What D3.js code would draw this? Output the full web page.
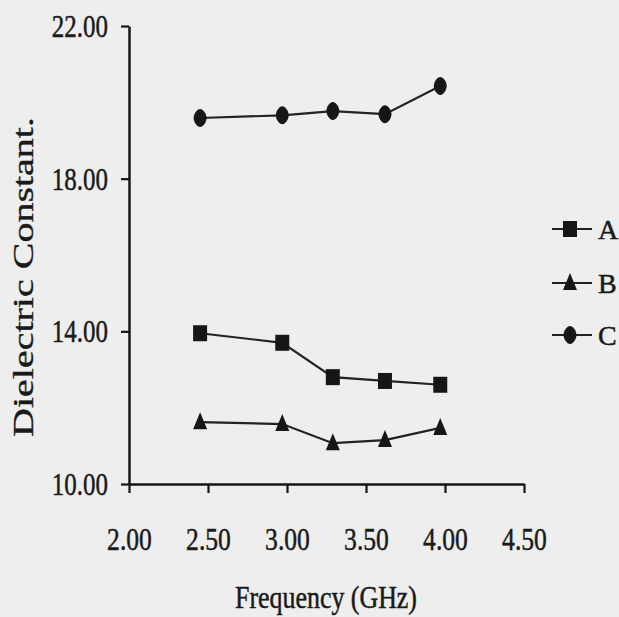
<!DOCTYPE html>
<html>
<head>
<meta charset="utf-8">
<script src="https://cdn.jsdelivr.net/npm/d3@7.9.0/dist/d3.min.js"></script>
<style>
  html, body { margin: 0; padding: 0; background: #eeeeee; }
  svg { display: block; }
  text { font-family: "Liberation Serif", "DejaVu Serif", serif; fill: #1a1a1a; stroke: #1a1a1a; stroke-width: 0.5; }
</style>
</head>
<body>
<svg id="chart" width="619" height="617"></svg>
<script>
// frequencies (GHz) and the three dielectric constant series
const freqs = [2.45, 2.97, 3.29, 3.62, 3.97];
const seriesA = [13.95, 13.70, 12.80, 12.70, 12.60];
const seriesB = [11.62, 11.57, 11.07, 11.15, 11.47];
const seriesC = [19.59, 19.66, 19.77, 19.69, 20.43];
const seriesNames = ['A', 'B', 'C'];
const xTicks = [2.0, 2.5, 3.0, 3.5, 4.0, 4.5];
const yTicks = [10, 14, 18, 22];

const svg = d3.select('#chart');
const ink = '#161616';

let x = d3.scaleLinear().domain([2, 4.5]).range([129, 524]);
let y = d3.scaleLinear().domain([10, 22]).range([484, 26]);

// squeeze glyphs horizontally like the scanned figure
function squeeze(sel, f) {
  sel.each(function () {
    const w = this.getComputedTextLength();
    d3.select(this).attr('textLength', w * f).attr('lengthAdjust', 'spacingAndGlyphs');
  });
}

// tall narrow marker shapes
const tallTriangle = {
  draw(ctx, size) {
    ctx.moveTo(0, -10);
    ctx.lineTo(7, 7);
    ctx.lineTo(-7, 7);
    ctx.closePath();
  }
};
const tallSquare = {
  draw(ctx, size) {
    ctx.rect(-7, -8, 14, 16);
  }
};
const tallDiamond = {
  draw(ctx, size) {
    // rounded diamond, close to an upright ellipse
    const rx = 6.5, ry = 9, k = 0.45;
    ctx.moveTo(0, -ry);
    ctx.bezierCurveTo(rx * k, -ry, rx, -ry * k, rx, 0);
    ctx.bezierCurveTo(rx, ry * k, rx * k, ry, 0, ry);
    ctx.bezierCurveTo(-rx * k, ry, -rx, ry * k, -rx, 0);
    ctx.bezierCurveTo(-rx, -ry * k, -rx * k, -ry, 0, -ry);
    ctx.closePath();
  }
};
const shapes = [tallSquare, tallTriangle, tallDiamond];

// axes
let yAxis = d3.axisLeft(y).tickValues(yTicks).tickSize(8).tickSizeOuter(0)
  .tickPadding(13).tickFormat(d3.format('.2f'));
let xAxis = d3.axisBottom(x).tickValues(xTicks).tickSize(9).tickSizeOuter(0)
  .tickFormat(d3.format('.2f'));

let gy = svg.append('g').attr('transform', `translate(${x(2)},0)`).call(yAxis);
let gx = svg.append('g').attr('transform', `translate(0,${y(10)})`).call(xAxis);

[gx, gy].forEach(g => {
  g.select('.domain').attr('stroke', ink).attr('stroke-width', 2.5);
  g.selectAll('.tick line').attr('stroke', ink).attr('stroke-width', 2.2);
  g.selectAll('.tick text').attr('font-size', 32).attr('fill', ink)
    .attr('font-family', '"Liberation Serif", serif');
});
gy.selectAll('.tick text').attr('dy', '0.33em');
gx.selectAll('.tick text').attr('y', 66).attr('dy', 0);
squeeze(gy.selectAll('.tick text'), 0.78);
squeeze(gx.selectAll('.tick text'), 0.8);

// lines + markers
const allSeries = [seriesA, seriesB, seriesC];
let line = d3.line().x(d => x(d[0])).y(d => y(d[1]));

allSeries.forEach((vals, i) => {
  const pts = freqs.map((f, j) => [f, vals[j]]);
  svg.append('path')
    .attr('d', line(pts))
    .attr('fill', 'none')
    .attr('stroke', '#222')
    .attr('stroke-width', 2.2);
  svg.append('g').selectAll('path')
    .data(pts)
    .join('path')
    .attr('d', d3.symbol(shapes[i]))
    .attr('transform', d => `translate(${x(d[0])},${y(d[1])})`)
    .attr('fill', ink);
});

// legend
const legendY = [229, 283, 335];
seriesNames.forEach((name, i) => {
  const g = svg.append('g').attr('transform', `translate(570,${legendY[i]})`);
  g.append('line').attr('x1', -18).attr('x2', 22).attr('stroke', '#222').attr('stroke-width', 2.2);
  g.append('path').attr('d', d3.symbol(shapes[i])()).attr('fill', ink);
  g.append('text').attr('x', 28).attr('y', 10).attr('font-size', 28).text(name);
});

// axis titles
svg.append('text')
  .attr('x', 326).attr('y', 608)
  .attr('text-anchor', 'middle')
  .attr('font-size', 31)
  .attr('textLength', 182)
  .attr('lengthAdjust', 'spacingAndGlyphs')
  .text('Frequency (GHz)');

svg.append('text')
  .attr('transform', 'translate(33,277) scale(0.72,1) rotate(-90)')
  .attr('text-anchor', 'middle')
  .attr('font-size', 40)
  .text('Dielectric Constant.');
</script>
</body>
</html>
